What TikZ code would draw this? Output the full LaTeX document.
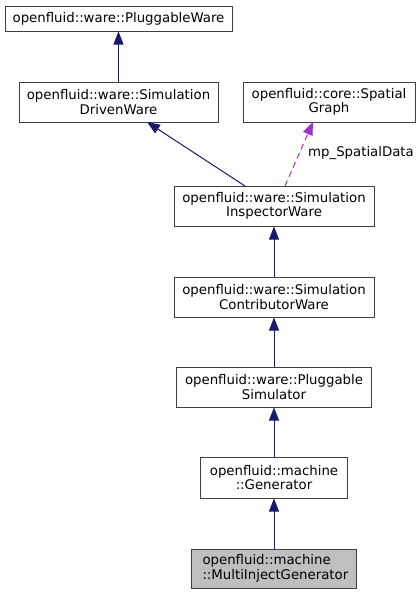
\documentclass[tikz,border=0pt]{standalone}
\usepackage{fontspec}
\setmainfont{DejaVu Sans}
\usetikzlibrary{arrows.meta}
\definecolor{edgeblue}{HTML}{191970}
\definecolor{edgepurple}{HTML}{9A32CD}
\definecolor{boxborder}{HTML}{404040}
\definecolor{boxgray}{HTML}{BFBFBF}
\begin{document}
\begin{tikzpicture}[x=1pt,y=-1pt,
  cls/.style={draw=boxborder,line width=1pt,fill=white,inner sep=0pt,align=center,font=\fontsize{13.3}{14.5}\selectfont},
  inh/.style={draw=edgeblue,line width=1pt,-{Triangle[width=10pt,length=13pt]}},
  usage/.style={draw=edgepurple,line width=1pt,dash pattern=on 6pt off 4pt,-{Triangle[width=10pt,length=13pt]}}]
\useasboundingbox (0,0) rectangle (419,595);
\node[cls,minimum width=227pt,minimum height=25pt] (pw) at (118.5,18.5) {openfluid::ware::PluggableWare};
\node[cls,minimum width=199pt,minimum height=40pt] (sdw) at (118.5,102) {openfluid::ware::Simulation\\DrivenWare};
\node[cls,minimum width=172pt,minimum height=40pt] (sg) at (329,102) {openfluid::core::Spatial\\Graph};
\node[cls,minimum width=200pt,minimum height=40pt] (siw) at (274,206) {openfluid::ware::Simulation\\InspectorWare};
\node[cls,minimum width=200pt,minimum height=40pt] (scw) at (274,297) {openfluid::ware::Simulation\\ContributorWare};
\node[cls,minimum width=195pt,minimum height=40pt] (ps) at (274,387) {openfluid::ware::Pluggable\\Simulator};
\node[cls,minimum width=147pt,minimum height=41pt] (gen) at (274,477.5) {openfluid::machine\\::Generator};
\node[cls,fill=boxgray,minimum width=165pt,minimum height=39pt,align=left,text width=143pt] (mig) at (274,568.5) {openfluid::machine\\::MultiInjectGenerator};
\coordinate (siwl) at (245,186);
\coordinate (siwr) at (285,186);
\coordinate (sdwb) at (147,122);
\coordinate (sgb) at (313,122);
\draw[inh] (sdw.north) -- (pw.south);
\draw[inh] (siwl) -- (sdwb);
\draw[usage] (siwr) -- (sgb);
\node[anchor=west,font=\fontsize{13.3}{14.5}\selectfont,inner sep=0pt] (lbl) at (308,153) {mp\_SpatialData};
\draw[inh] (scw.north) -- (siw.south);
\draw[inh] (ps.north) -- (scw.south);
\draw[inh] (gen.north) -- (ps.south);
\draw[inh] (mig.north) -- (gen.south);
\end{tikzpicture}
\end{document}
